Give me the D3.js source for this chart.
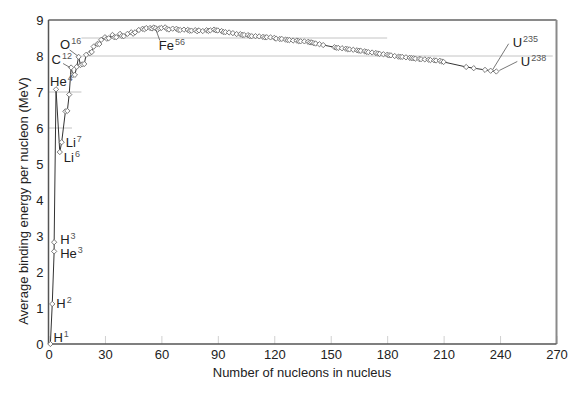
<!DOCTYPE html>
<html>
<head>
<meta charset="utf-8">
<script src="https://cdn.jsdelivr.net/npm/d3@7"></script>
<style>
  body { margin: 0; background: #fff; }
  svg { font-family: "Liberation Sans", Arial, sans-serif; }
  .tick text { font-size: 13px; fill: #222; }
  .axis-title { font-size: 13px; fill: #222; }
  .iso { font-size: 13px; fill: #222; }
</style>
</head>
<body>
<div id="chart"></div>
<script>
// mass number A of each plotted nuclide (stable / common isotopes)
const massNumber = [
  1, 2, 3, 3, 4, 6, 7, 9, 10, 11, 12, 13, 14, 15, 16, 17, 18, 19, 20, 22,
  23, 24, 26, 27, 28, 30, 31, 32, 34, 35, 36, 38, 39, 40, 42, 44, 45, 46, 48, 50,
  51, 52, 54, 55, 56, 57, 58, 59, 60, 62, 63, 64, 66, 68, 69, 70, 72, 74, 75, 76,
  78, 79, 80, 82, 84, 85, 86, 88, 89, 90, 92, 93, 94, 96, 98, 100, 102, 103, 104, 106,
  107, 108, 110, 112, 114, 115, 116, 118, 120, 121, 123, 124, 126, 127, 128, 130, 132, 133, 134, 136,
  138, 139, 140, 141, 142, 144, 146, 152, 153, 154, 156, 158, 159, 160, 162, 164, 165, 166, 168, 169,
  170, 172, 174, 175, 176, 178, 180, 181, 182, 184, 186, 187, 188, 190, 192, 193, 194, 195, 197, 198,
  200, 202, 203, 205, 206, 208, 209, 210, 222, 226, 232, 235, 238
];

// average binding energy per nucleon (MeV), same order as massNumber
const bindingPerNucleon = [
  0.000, 1.112, 2.573, 2.827, 7.074, 5.332, 5.606, 6.463, 6.475, 6.928, 7.680, 7.470, 7.476, 7.699, 7.976, 7.751, 7.767, 7.779, 8.032, 8.080,
  8.112, 8.261, 8.334, 8.332, 8.448, 8.521, 8.481, 8.493, 8.584, 8.520, 8.522, 8.614, 8.557, 8.551, 8.617, 8.658, 8.619, 8.656, 8.723, 8.756,
  8.742, 8.776, 8.778, 8.765, 8.790, 8.770, 8.732, 8.768, 8.781, 8.795, 8.752, 8.736, 8.760, 8.756, 8.724, 8.722, 8.732, 8.725, 8.701, 8.705,
  8.718, 8.688, 8.711, 8.693, 8.717, 8.697, 8.712, 8.733, 8.714, 8.710, 8.693, 8.664, 8.662, 8.654, 8.635, 8.609, 8.607, 8.584, 8.584, 8.580,
  8.554, 8.550, 8.551, 8.545, 8.532, 8.517, 8.523, 8.517, 8.505, 8.482, 8.472, 8.474, 8.455, 8.445, 8.443, 8.430, 8.428, 8.410, 8.408, 8.406,
  8.394, 8.378, 8.376, 8.354, 8.346, 8.327, 8.304, 8.244, 8.229, 8.225, 8.215, 8.202, 8.189, 8.183, 8.173, 8.159, 8.147, 8.142, 8.130, 8.115,
  8.106, 8.097, 8.084, 8.069, 8.059, 8.049, 8.035, 8.023, 8.018, 7.999, 7.981, 7.978, 7.974, 7.963, 7.948, 7.938, 7.936, 7.927, 7.916, 7.912,
  7.906, 7.897, 7.887, 7.879, 7.875, 7.868, 7.848, 7.834, 7.695, 7.662, 7.615, 7.591, 7.570
];

// labelled nuclides
const labelElement = ["H", "H", "H", "He", "He", "Li", "Li", "C", "O", "Fe", "U", "U"];
const labelMass = [1, 2, 3, 3, 4, 7, 6, 12, 16, 56, 235, 238];
const labelEnergy = [0.000, 1.112, 2.827, 2.573, 7.074, 5.606, 5.332, 7.680, 7.976, 8.790, 7.591, 7.570];

const xTicks = d3.range(0, 271, 30);
const yTicks = d3.range(0, 10, 1);

const margin = { top: 20, right: 11.5, bottom: 53, left: 48.5 };
const W = 568, H = 397;

const svg = d3.select('#chart').append('svg')
  .attr('width', W)
  .attr('height', H);

const x = d3.scaleLinear().domain([0, 270]).range([margin.left, W - margin.right]);
const y = d3.scaleLinear().domain([0, 9]).range([H - margin.bottom, margin.top]);

// partial grey guide lines
const guides = [
  { v: 6, a0: 0, a1: 12.5 },
  { v: 7, a0: 0, a1: 17.5 },
  { v: 8, a0: 17.5, a1: 268 },
  { v: 8.5, a0: 17.5, a1: 180 }
];
svg.append('g').selectAll('line').data(guides).enter().append('line')
  .attr('x1', d => x(d.a0)).attr('x2', d => x(d.a1))
  .attr('y1', d => y(d.v)).attr('y2', d => y(d.v))
  .attr('stroke', '#c4c4c4').attr('stroke-width', 1);

// x axis, ticks pointing inward
const xAxis = d3.axisBottom(x).tickValues(xTicks).tickSize(-8).tickPadding(6);
const gx = svg.append('g')
  .attr('transform', 'translate(0,' + y(0) + ')')
  .call(xAxis);
gx.select('.domain').remove();
gx.selectAll('.tick line').attr('stroke', '#d0d0d0');
gx.selectAll('.tick text').attr('dy', '0.71em');

const yAxis = d3.axisLeft(y).tickValues(yTicks).tickSize(0).tickPadding(5);
const gy = svg.append('g')
  .attr('transform', 'translate(' + x(0) + ',0)')
  .call(yAxis);
gy.select('.domain').remove();

// frame
svg.append('line').attr('x1', x(0)).attr('x2', x(270)).attr('y1', y(9)).attr('y2', y(9))
  .attr('stroke', '#8a8a8a').attr('stroke-width', 2);
svg.append('line').attr('x1', x(270)).attr('x2', x(270)).attr('y1', y(9)).attr('y2', y(0))
  .attr('stroke', '#8a8a8a').attr('stroke-width', 2);
svg.append('line').attr('x1', x(0)).attr('x2', x(270)).attr('y1', y(0)).attr('y2', y(0))
  .attr('stroke', '#555').attr('stroke-width', 1.5);
svg.append('line').attr('x1', x(0)).attr('x2', x(0)).attr('y1', y(9)).attr('y2', y(0))
  .attr('stroke', '#555').attr('stroke-width', 1.5);

// curve
const pts = massNumber.map((a, i) => [a, bindingPerNucleon[i]]);
svg.append('path')
  .datum(pts)
  .attr('fill', 'none')
  .attr('stroke', '#333')
  .attr('stroke-width', 1)
  .attr('d', d3.line().x(d => x(d[0])).y(d => y(d[1])));

const diamond = d3.symbol().type(d3.symbolSquare).size(14);
svg.append('g').selectAll('path').data(pts).enter().append('path')
  .attr('d', diamond)
  .attr('transform', d => 'translate(' + x(d[0]) + ',' + y(d[1]) + ') rotate(45)')
  .attr('fill', '#fff')
  .attr('stroke', '#666')
  .attr('stroke-width', 0.8);

// label offsets (px) from each labelled point, with optional leader line
const labelLayout = [
  { dx: 3, dy: -2 },
  { dx: 4, dy: 4 },
  { dx: 6, dy: 2 },
  { dx: 6, dy: 7 },
  { dx: -6, dy: -3 },
  { dx: 4, dy: 5 },
  { dx: 4, dy: 10 },
  { dx: -19.5, dy: -4, lx: -8, ly: -4, px: -1, py: 0 },
  { dx: -18.5, dy: -8, lx: -9, ly: -7, px: -1, py: -1 },
  { dx: 5, dy: 22, lx: 6, ly: 13, px: 2, py: 2 },
  { dx: 22, dy: -24, lx: 18, ly: -27, px: 2, py: -1 },
  { dx: 24.5, dy: -5.5, lx: 21, ly: -10, px: 3, py: -1 }
];

const lab = svg.append('g');
labelElement.forEach((el, i) => {
  const px = x(labelMass[i]), py = y(labelEnergy[i]);
  const L = labelLayout[i];
  if (L.lx !== undefined) {
    lab.append('line')
      .attr('x1', px + L.px).attr('y1', py + L.py)
      .attr('x2', px + L.lx).attr('y2', py + L.ly)
      .attr('stroke', '#555').attr('stroke-width', 0.8);
  }
  const t = lab.append('text')
    .attr('class', 'iso')
    .attr('x', px + L.dx)
    .attr('y', py + L.dy);
  t.append('tspan').text(el);
  t.append('tspan')
    .attr('dy', -5)
    .attr('dx', 1)
    .style('font-size', '9px')
    .style('fill', '#555')
    .text(labelMass[i]);
});

// axis titles
svg.append('text')
  .attr('class', 'axis-title')
  .attr('x', 302)
  .attr('y', 377)
  .attr('text-anchor', 'middle')
  .text('Number of nucleons in nucleus');

svg.append('text')
  .attr('class', 'axis-title')
  .attr('transform', 'translate(28,201) rotate(-90)')
  .attr('text-anchor', 'middle')
  .text('Average binding energy per nucleon (MeV)');
</script>
</body>
</html>
